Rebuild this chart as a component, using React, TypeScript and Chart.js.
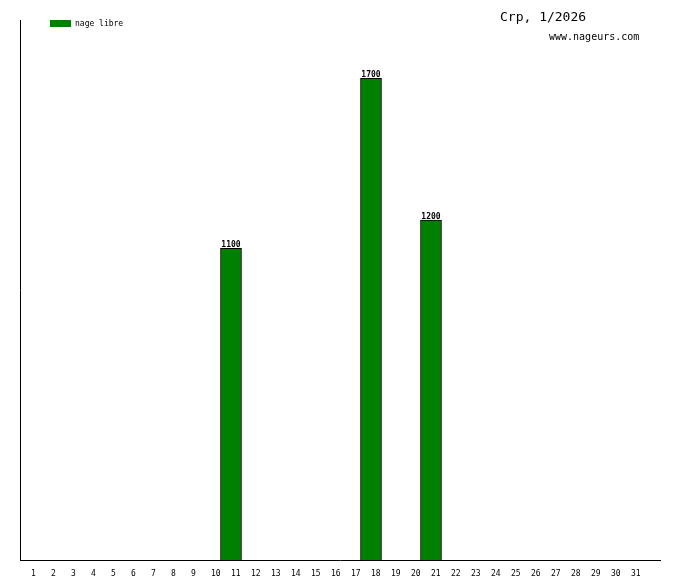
import React, { useEffect, useRef } from "react";
import { Chart, registerables } from "chart.js";

Chart.register(...registerables);

const days = Array.from({ length: 31 }, (_, i) => i + 1);
const values: (number | null)[] = [
  null, null, null, null, null, null, null, null, null, null,
  1100, null, null, null, null, null, null, 1700, null, null,
  1200, null, null, null, null, null, null, null, null, null, null,
];
const seriesLabel = "nage libre";
const titleText = "Crp, 1/2026";
const siteText = "www.nageurs.com";
const barColor = "#008000";

const overlayPlugin = {
  id: "overlay",
  afterDatasetsDraw(chart: any) {
    const ctx = chart.ctx;
    ctx.save();
    const meta = chart.getDatasetMeta(0);
    ctx.fillStyle = "#000";
    ctx.font = "bold 8px 'DejaVu Sans Mono', monospace";
    ctx.textAlign = "center";
    ctx.textBaseline = "alphabetic";
    meta.data.forEach((el: any, i: number) => {
      const raw = chart.data.datasets[0].data[i];
      if (!raw || raw.y == null) return;
      ctx.fillText(String(raw.y), el.x, el.y - 1.5);
    });
    ctx.fillStyle = barColor;
    ctx.fillRect(50, 20, 21, 7);
    ctx.fillStyle = "#000";
    ctx.font = "8px 'DejaVu Sans Mono', monospace";
    ctx.textAlign = "left";
    ctx.textBaseline = "middle";
    ctx.fillText(chart.data.datasets[0].label, 75, 23.5);
    ctx.font = "13px 'DejaVu Sans Mono', monospace";
    ctx.fillText(titleText, 500, 18);
    ctx.font = "10px 'DejaVu Sans Mono', monospace";
    ctx.fillText(siteText, 549, 37.5);
    ctx.restore();
  },
};

export default function App() {
  const ref = useRef<HTMLCanvasElement>(null);
  useEffect(() => {
    document.body.style.margin = "0";
    const chart = new Chart(ref.current!, {
      type: "bar",
      data: {
        datasets: [
          {
            label: seriesLabel,
            data: days.map((d, i) => ({ x: d, y: values[i] })) as any,
            backgroundColor: barColor,
            borderColor: "#000",
            borderWidth: 1,
            barThickness: 21,
          },
        ],
      },
      options: {
        responsive: false,
        animation: false,
        layout: { padding: { top: 20, right: 20, left: 0, bottom: 0 } },
        plugins: { legend: { display: false }, tooltip: { enabled: false } },
        scales: {
          x: {
            type: "linear",
            offset: false,
            min: 0.45,
            max: 32.45,
            afterBuildTicks: (s: any) => {
              s.ticks = days.map((v) => ({ value: v }));
            },
            afterFit: (s: any) => {
              s.height = 20;
            },
            grid: { display: false },
            border: { display: true, color: "#000", width: 1 },
            ticks: {
              align: "start",
              padding: 1,
              color: "#000",
              autoSkip: false,
              maxRotation: 0,
              font: { family: "'DejaVu Sans Mono', monospace", size: 8 },
              callback: (v: any) => String(v),
            },
          },
          y: {
            min: 0,
            max: 1906,
            afterFit: (s: any) => {
              s.width = 20;
            },
            grid: { display: false },
            border: { display: true, color: "#000", width: 1 },
            ticks: { display: false },
          },
        },
      },
      plugins: [overlayPlugin],
    });
    return () => chart.destroy();
  }, []);
  return (
    <div style={{ position: "absolute", left: 0, top: 0, width: 680, height: 580, background: "#fff" }}>
      <canvas ref={ref} width={680} height={580} />
    </div>
  );
}
